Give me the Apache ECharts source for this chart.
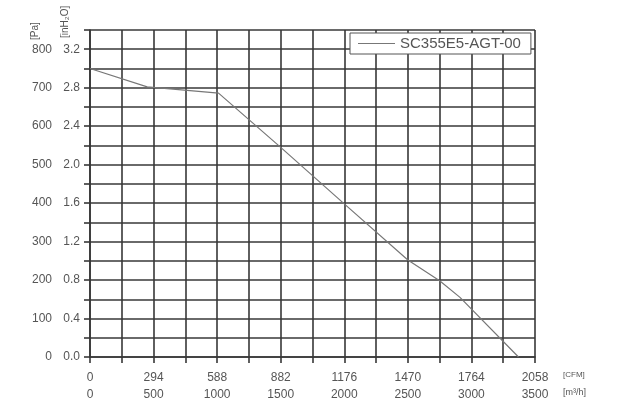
<!DOCTYPE html>
<html><head><meta charset="utf-8">
<script src="https://cdn.jsdelivr.net/npm/echarts@6/dist/echarts.min.js"></script>
<style>html,body{margin:0;padding:0;background:#fff}#c{width:617px;height:401px}</style>
</head><body><div id="c"></div>
<script>
var seriesName = 'SC355E5-AGT-00';
var flowM3h = [0, 450, 1011, 1500, 2000, 2500, 2750, 2910, 3370];
var pressurePa = [750, 702, 686, 545, 398, 252, 198, 155, 0];
var m3hTicks = [0, 500, 1000, 1500, 2000, 2500, 3000, 3500];
var cfmTicks = [0, 294, 588, 882, 1176, 1470, 1764, 2058];
var paTicks = [0, 100, 200, 300, 400, 500, 600, 700, 800];
var inH2OTicks = ['0.0', '0.4', '0.8', '1.2', '1.6', '2.0', '2.4', '2.8', '3.2'];

var data = flowM3h.map(function (x, i) { return [x, pressurePa[i]]; });
var font = 'Liberation Sans, Arial, sans-serif';
var gridLine = { show: true, lineStyle: { color: '#383838', width: 1.6 } };

var chart = echarts.init(document.getElementById('c'));
chart.setOption({
  animation: false,
  grid: { left: 90, right: 82, top: 30, bottom: 44, containLabel: false },
  legend: {
    data: [seriesName], left: 350, top: 33, padding: [3, 10, 3, 8],
    borderColor: '#555', borderWidth: 1, backgroundColor: '#fff',
    itemWidth: 37, itemHeight: 1, itemGap: 8, icon: 'rect',
    textStyle: { fontFamily: font, fontSize: 15, color: '#555' }
  },
  xAxis: {
    type: 'value', min: 0, max: 3500, interval: 250,
    axisLine: { show: true, lineStyle: { color: '#383838', width: 1.6 } },
    axisTick: { show: true, length: 6, lineStyle: { color: '#383838', width: 1.6 } },
    splitLine: gridLine,
    axisLabel: {
      margin: 12, fontFamily: font, color: '#555',
      formatter: function (v) {
        var i = m3hTicks.indexOf(v);
        if (i < 0) return '';
        return '{a|' + cfmTicks[i] + '}\n{b|' + m3hTicks[i] + '}';
      },
      rich: {
        a: { fontFamily: font, fontSize: 12, color: '#555', lineHeight: 17 },
        b: { fontFamily: font, fontSize: 12, color: '#555', lineHeight: 17 }
      }
    }
  },
  yAxis: [{
    type: 'value', min: 0, max: 850, interval: 50, position: 'left',
    axisLine: { show: true, lineStyle: { color: '#383838', width: 1.6 } },
    axisTick: { show: true, length: 6, lineStyle: { color: '#383838', width: 1.6 } },
    splitLine: gridLine,
    axisLabel: {
      margin: 10, fontFamily: font, fontSize: 12, color: '#555',
      formatter: function (v) { var i = paTicks.indexOf(v); return i < 0 ? '' : inH2OTicks[i]; }
    }
  }, {
    type: 'value', min: 0, max: 850, interval: 50, position: 'left',
    axisLine: { show: false }, axisTick: { show: false }, splitLine: { show: false },
    axisLabel: {
      margin: 38, fontFamily: font, fontSize: 12, color: '#555',
      formatter: function (v) { var i = paTicks.indexOf(v); return i < 0 ? '' : String(paTicks[i]); }
    }
  }],
  graphic: [
    { type: 'text', x: 30, y: 40, rotation: Math.PI / 2,
      style: { text: '[Pa]', font: '10px ' + font, fill: '#555' } },
    { type: 'text', x: 60, y: 38, rotation: Math.PI / 2,
      style: { text: '[inH\u2082O]', font: '10px ' + font, fill: '#555' } },
    { type: 'text', x: 563, y: 371,
      style: { text: '[CFM]', font: '8px ' + font, fill: '#555' } },
    { type: 'text', x: 563, y: 388,
      style: { text: '[m\u00b3/h]', font: '9px ' + font, fill: '#555' } }
  ],
  series: [{
    name: seriesName, type: 'line', data: data, symbol: 'none',
    lineStyle: { color: '#777', width: 1.2 }, itemStyle: { color: '#777' }
  }]
});
</script></body></html>
